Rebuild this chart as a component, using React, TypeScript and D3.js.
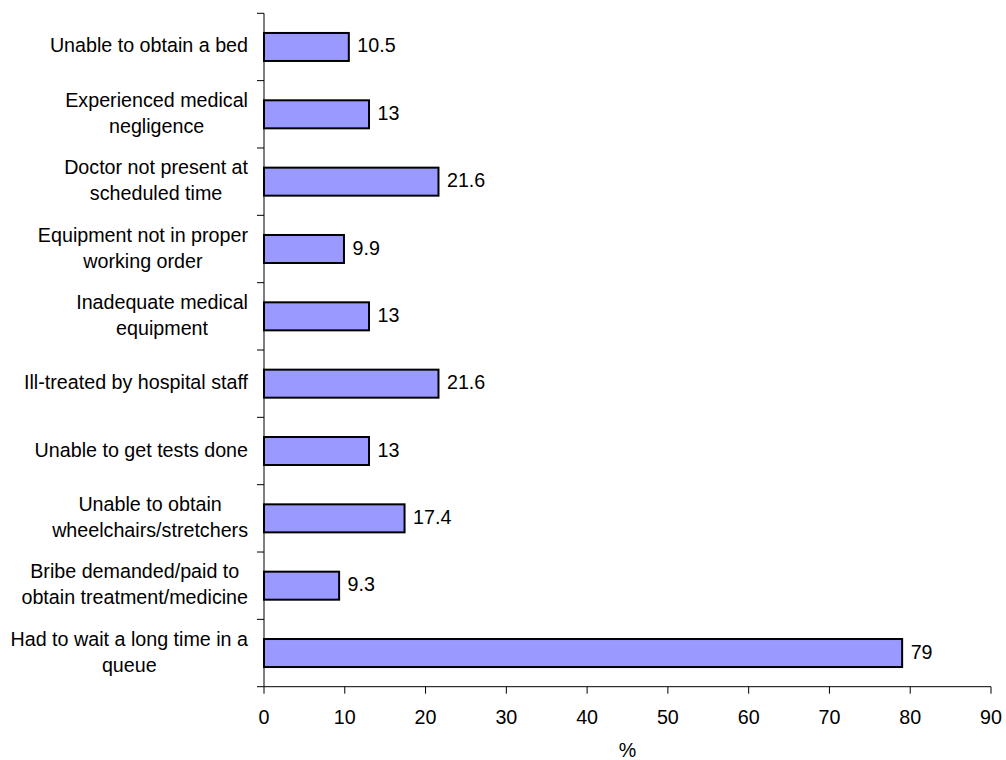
import React, { useEffect, useRef } from "react";
import * as d3 from "d3";

// Survey responses: share of respondents (%) reporting each problem
const categories: string[] = [
  "Unable to obtain a bed",
  "Experienced medical\nnegligence",
  "Doctor not present at\nscheduled time",
  "Equipment not in proper\nworking order",
  "Inadequate medical\nequipment",
  "Ill-treated by hospital staff",
  "Unable to get tests done",
  "Unable to obtain\nwheelchairs/stretchers",
  "Bribe demanded/paid to\nobtain treatment/medicine",
  "Had to wait a long time in a\nqueue",
];
const values: number[] = [10.5, 13, 21.6, 9.9, 13, 21.6, 13, 17.4, 9.3, 79];
const xTicks: number[] = [0, 10, 20, 30, 40, 50, 60, 70, 80, 90];
const xTitle = "%";

const W = 1006;
const H = 760;
const FONT = "'Liberation Sans', Arial, Helvetica, sans-serif";
const FS = 19.7;

export default function App() {
  const ref = useRef<SVGSVGElement | null>(null);

  useEffect(() => {
    const svg = d3.select(ref.current);
    svg.selectAll("*").remove();

    const left = 264;
    const right = 991;
    const top = 13.3;
    const bottom = 686.7;

    const x = d3.scaleLinear().domain([0, 90]).range([left, right]);
    const y = d3
      .scaleBand<string>()
      .domain(categories)
      .range([top, bottom])
      .paddingInner(0.584)
      .paddingOuter(0.292);

    const g = svg.append("g").attr("font-family", FONT).attr("font-size", FS);

    // bars
    g.selectAll("rect.bar")
      .data(categories)
      .join("rect")
      .attr("class", "bar")
      .attr("x", x(0))
      .attr("y", (d) => y(d)!)
      .attr("width", (d, i) => x(values[i]) - x(0))
      .attr("height", y.bandwidth())
      .attr("fill", "#9999ff")
      .attr("stroke", "#000")
      .attr("stroke-width", 2);

    // value labels
    g.selectAll("text.val")
      .data(categories)
      .join("text")
      .attr("class", "val")
      .attr("x", (d, i) => x(values[i]) + 8.5)
      .attr("y", (d) => y(d)! + y.bandwidth() / 2)
      .attr("dy", "0.28em")
      .attr("fill", "#000")
      .text((d, i) => String(values[i]));

    // y axis line and category boundary ticks
    const step = y.step();
    const y0 = top;
    g.append("line")
      .attr("x1", left)
      .attr("x2", left)
      .attr("y1", top)
      .attr("y2", bottom)
      .attr("stroke", "#000")
      .attr("stroke-width", 1);
    g.selectAll("line.ytick")
      .data(d3.range(categories.length + 1))
      .join("line")
      .attr("class", "ytick")
      .attr("x1", left - 7)
      .attr("x2", left)
      .attr("y1", (i) => y0 + i * step)
      .attr("y2", (i) => y0 + i * step)
      .attr("stroke", "#000")
      .attr("stroke-width", 1);

    // x axis
    g.append("line")
      .attr("x1", left)
      .attr("x2", right)
      .attr("y1", bottom)
      .attr("y2", bottom)
      .attr("stroke", "#000")
      .attr("stroke-width", 1);
    g.selectAll("line.xtick")
      .data(xTicks)
      .join("line")
      .attr("class", "xtick")
      .attr("x1", (d) => x(d))
      .attr("x2", (d) => x(d))
      .attr("y1", bottom)
      .attr("y2", bottom + 7)
      .attr("stroke", "#000")
      .attr("stroke-width", 1);
    g.selectAll("text.xlab")
      .data(xTicks)
      .join("text")
      .attr("class", "xlab")
      .attr("x", (d) => x(d))
      .attr("y", bottom + 30)
      .attr("dy", "0.35em")
      .attr("text-anchor", "middle")
      .text((d) => String(d));

    g.append("text")
      .attr("x", (left + right) / 2)
      .attr("y", bottom + 63)
      .attr("dy", "0.35em")
      .attr("text-anchor", "middle")
      .text(xTitle);

    // category labels: centred lines, block right-aligned against the axis
    const labelRight = 248;
    const lineH = 26;
    categories.forEach((c) => {
      const lines = c.split("\n");
      const cy = y(c)! + y.bandwidth() / 2;
      const t = g.append("text").attr("text-anchor", "middle").attr("fill", "#000");
      lines.forEach((ln, k) => {
        t.append("tspan")
          .attr("x", 0)
          .attr("y", cy - ((lines.length - 1) * lineH) / 2 + k * lineH)
          .attr("dy", "0.28em")
          .text(ln);
      });
      let maxW = 0;
      t.selectAll<SVGTSpanElement, unknown>("tspan").each(function () {
        maxW = Math.max(maxW, this.getComputedTextLength());
      });
      t.selectAll("tspan").attr("x", labelRight - maxW / 2);
    });
  }, []);

  return (
    <svg
      ref={ref}
      width={W}
      height={H}
      style={{ position: "absolute", left: 0, top: 0, background: "#fff" }}
    />
  );
}
